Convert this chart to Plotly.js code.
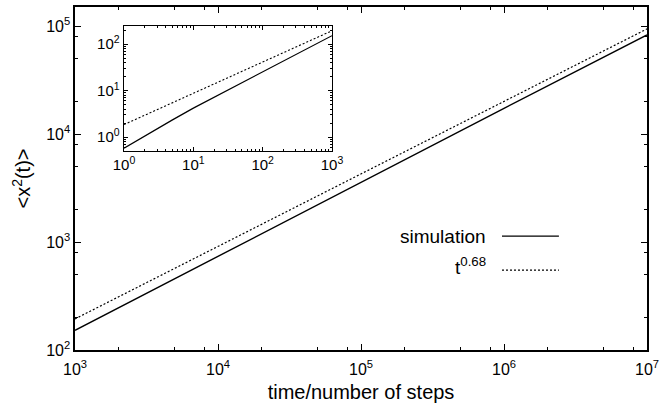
<!DOCTYPE html>
<html>
<head>
<meta charset="utf-8">
<script src="https://cdn.plot.ly/plotly-3.0.1.min.js"></script>
<style>html,body{margin:0;padding:0;background:#fff;}#plot{width:659px;height:404px;}</style>
</head>
<body>
<div id="plot"></div>
<script>
// ---- data ----
const simT = [1, 2, 5, 10, 20, 50, 100, 200, 500, 1000, 10000, 100000, 1000000, 10000000];
const simMSD = [0.58, 1.07, 2.35, 4.2, 7.2, 14.8, 25, 43, 88, 152, 740, 3550, 17300, 82600];
const fitT = [1, 10, 100, 1000, 10000, 100000, 1000000, 10000000];
const fitMSD = [1.86, 8.8, 41.5, 194, 910, 4270, 20000, 94000];
const mainXTicks = [1e3, 1e4, 1e5, 1e6, 1e7];
const mainXLabels = ['10<sup>3</sup>', '10<sup>4</sup>', '10<sup>5</sup>', '10<sup>6</sup>', '10<sup>7</sup>'];
const mainYTicks = [1e2, 1e3, 1e4, 1e5];
const mainYLabels = ['10<sup>2</sup>', '10<sup>3</sup>', '10<sup>4</sup>', '10<sup>5</sup>'];
const insetXTicks = [1, 10, 100, 1000];
const insetXLabels = ['10<sup>0</sup>', '10<sup>1</sup>', '10<sup>2</sup>', '10<sup>3</sup>'];
const insetYTicks = [1, 10, 100];
const insetYLabels = ['10<sup>0</sup>', '10<sup>1</sup>', '10<sup>2</sup>'];
const legendNames = ['simulation', 't<sup>0.68</sup>'];

// minor tick positions (2,5,8 per decade on main; 2..9 on inset)
function minorVals(lo, hi, mults) {
  const v = [];
  for (let e = lo; e < hi; e++) for (const m of mults) v.push(m * Math.pow(10, e));
  return v;
}

const FONT = 'Liberation Sans, Arial, Helvetica, sans-serif';
const mainMask = simT.map(t => t >= 1000);

const traces = [
  {x: simT.filter((t,i)=>mainMask[i]), y: simMSD.filter((t,i)=>mainMask[i]), mode: 'lines',
   line: {color: '#000', width: 1.4}, xaxis: 'x', yaxis: 'y', showlegend: false, hoverinfo: 'skip'},
  {x: fitT.filter(t=>t>=1000), y: fitMSD.filter((v,i)=>fitT[i]>=1000), mode: 'lines',
   line: {color: '#000', width: 1.2, dash: '2px,2px'}, xaxis: 'x', yaxis: 'y', showlegend: false, hoverinfo: 'skip'},
  {x: simT.filter(t=>t<=1000), y: simMSD.filter((v,i)=>simT[i]<=1000), mode: 'lines',
   line: {color: '#000', width: 1.2}, xaxis: 'x2', yaxis: 'y2', showlegend: false, hoverinfo: 'skip'},
  {x: fitT.filter(t=>t<=1000), y: fitMSD.filter((v,i)=>fitT[i]<=1000), mode: 'lines',
   line: {color: '#000', width: 1.1, dash: '2px,2px'}, xaxis: 'x2', yaxis: 'y2', showlegend: false, hoverinfo: 'skip'}
];

const axBase = {
  type: 'log', showgrid: false, zeroline: false, showline: true, linecolor: '#000',
  mirror: 'allticks', ticks: 'inside', tickcolor: '#000', tickmode: 'array',
  ticklabeloverflow: 'allow'
};

const layout = {
  width: 659, height: 404,
  margin: {l: 75, r: 12, t: 7, b: 54},
  paper_bgcolor: '#fff', plot_bgcolor: '#fff',
  font: {family: FONT, color: '#000'},
  showlegend: false,
  xaxis: Object.assign({}, axBase, {
    range: [3, 7], domain: [0, 1], linewidth: 1.6, ticklen: 6, tickwidth: 1,
    tickvals: mainXTicks, ticktext: mainXLabels, tickfont: {size: 16, family: FONT},
    ticklabelstandoff: 4,
    minor: {tickmode: 'array', tickvals: minorVals(3, 7, [2, 5, 8]), ticks: 'inside', ticklen: 3, tickcolor: '#000', tickwidth: 1},
    title: {text: 'time/number of steps', font: {size: 20, family: FONT}, standoff: 8}
  }),
  yaxis: Object.assign({}, axBase, {
    range: [2, 5.176], domain: [0, 1], linewidth: 1.6, ticklen: 6, tickwidth: 1,
    tickvals: mainYTicks, ticktext: mainYLabels, tickfont: {size: 16, family: FONT},
    minor: {tickmode: 'array', tickvals: minorVals(2, 5, [2, 5, 8]), ticks: 'inside', ticklen: 3, tickcolor: '#000', tickwidth: 1},
    title: {text: '<x<sup>2</sup>(t)>', font: {size: 20, family: FONT}, standoff: 10}
  }),
  xaxis2: Object.assign({}, axBase, {
    range: [0, 3], domain: [0.0857, 0.4493], anchor: 'y2', linewidth: 1.4, ticklen: 4, tickwidth: 1,
    tickvals: insetXTicks, ticktext: insetXLabels, tickfont: {size: 15, family: FONT},
    minor: {tickmode: 'array', tickvals: minorVals(0, 3, [2,3,4,5,6,7,8,9]), ticks: 'inside', ticklen: 2, tickcolor: '#000', tickwidth: 1}
  }),
  yaxis2: Object.assign({}, axBase, {
    range: [-0.3, 2.39], domain: [0.580, 0.9446], anchor: 'x2', linewidth: 1.4, ticklen: 4, tickwidth: 1,
    tickvals: insetYTicks, ticktext: insetYLabels, tickfont: {size: 15, family: FONT},
    minor: {tickmode: 'array', tickvals: minorVals(-1, 3, [2,3,4,5,6,7,8,9]).filter(v=>v>0.5 && v<245), ticks: 'inside', ticklen: 2, tickcolor: '#000', tickwidth: 1}
  }),
  annotations: [
    {xref: 'paper', yref: 'paper', x: 0.722, y: 0.332, xanchor: 'right', yanchor: 'middle',
     text: legendNames[0], showarrow: false, font: {size: 19, family: FONT}},
    {xref: 'paper', yref: 'paper', x: 0.722, y: 0.245, xanchor: 'right', yanchor: 'middle',
     text: legendNames[1], showarrow: false, font: {size: 19, family: FONT}}
  ],
  shapes: [
    {type: 'line', xref: 'paper', yref: 'paper', x0: 0.7465, x1: 0.846, y0: 0.332, y1: 0.332,
     line: {color: '#000', width: 1.2}},
    {type: 'line', xref: 'paper', yref: 'paper', x0: 0.7465, x1: 0.846, y0: 0.233, y1: 0.233,
     line: {color: '#000', width: 1.1, dash: '2px,2px'}}
  ]
};

Plotly.newPlot('plot', traces, layout, {displayModeBar: false, staticPlot: true});
</script>
</body>
</html>
